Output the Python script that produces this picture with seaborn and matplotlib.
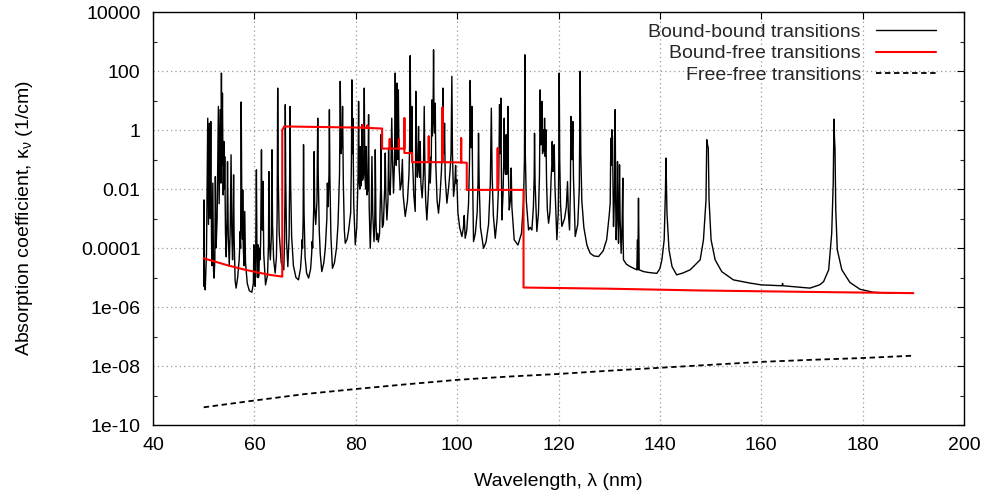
import numpy as np
import pandas as pd
import matplotlib
matplotlib.use("Agg")
import matplotlib.pyplot as plt
import seaborn as sns
from matplotlib.ticker import FixedLocator, NullFormatter

# ---------------- data ----------------
# Bound-bound transitions: wavelength (nm) and log10 of absorption coefficient (1/cm)
bb_wavelength_nm = [
    50.00, 50.05, 50.15, 50.30, 50.55, 50.80, 50.95, 51.10, 51.25, 51.40,
    51.55, 51.65, 51.80, 51.95, 52.05, 52.20, 52.30, 52.45, 52.65, 52.90,
    53.05, 53.25, 53.40, 53.50, 53.60, 53.70, 53.85, 54.00, 54.08, 54.15,
    54.30, 54.45, 54.60, 54.70, 54.85, 55.05, 55.25, 55.40, 55.55, 55.70,
    55.80, 55.90, 56.00, 56.20, 56.40, 56.70, 57.00, 57.15, 57.20, 57.28,
    57.40, 57.52, 57.65, 57.70, 57.80, 57.95, 58.10, 58.25, 58.60, 59.00,
    59.50, 59.80, 59.90, 59.97, 60.05, 60.15, 60.25, 60.40, 60.50, 60.60,
    60.70, 60.80, 60.90, 61.00, 61.15, 61.25, 61.40, 61.50, 61.60, 61.70,
    61.85, 62.20, 62.60, 62.78, 62.87, 62.97, 63.15, 63.35, 63.47, 63.58,
    63.80, 64.10, 64.35, 64.50, 64.60, 64.70, 64.90, 65.30, 65.80, 65.95,
    66.05, 66.10, 66.18, 66.35, 66.60, 66.85, 66.95, 67.05, 67.15, 67.35,
    67.70, 68.20, 68.70, 69.10, 69.30, 69.40, 69.50, 69.62, 69.70, 69.80,
    70.00, 70.30, 70.70, 71.10, 71.30, 71.40, 71.50, 71.70, 71.80, 71.90,
    72.10, 72.35, 72.50, 72.60, 72.80, 73.00, 73.30, 73.70, 74.00, 74.30,
    74.40, 74.55, 74.72, 74.80, 74.90, 75.10, 75.40, 75.80, 76.20, 76.50,
    76.80, 76.94, 77.10, 77.30, 77.40, 77.55, 77.75, 77.93, 78.30, 78.60,
    79.00, 79.15, 79.24, 79.34, 79.44, 79.60, 79.90, 80.20, 80.45, 80.56,
    80.70, 80.80, 80.89, 81.00, 81.12, 81.22, 81.35, 81.55, 81.68, 81.80,
    81.95, 82.07, 82.20, 82.40, 82.53, 82.65, 82.86, 83.05, 83.19, 83.35,
    83.60, 83.75, 83.85, 83.98, 84.10, 84.31, 84.45, 84.70, 84.90, 84.96,
    85.05, 85.25, 85.45, 85.70, 85.82, 85.95, 86.15, 86.35, 86.48, 86.60,
    86.80, 86.95, 87.10, 87.25, 87.45, 87.65, 87.79, 87.92, 88.00, 88.12,
    88.22, 88.30, 88.40, 88.55, 88.77, 89.00, 89.20, 89.35, 89.76, 90.20,
    90.50, 90.62, 90.74, 90.85, 90.95, 91.07, 91.20, 91.45, 91.73, 91.80,
    91.86, 92.00, 92.15, 92.25, 92.39, 92.50, 92.60, 92.72, 92.85, 93.10,
    93.35, 93.51, 93.65, 93.80, 94.03, 94.30, 94.45, 94.56, 94.70, 94.90,
    95.02, 95.12, 95.25, 95.35, 95.45, 95.55, 95.68, 95.80, 96.05, 96.33,
    96.60, 96.90, 97.05, 97.19, 97.30, 97.40, 97.52, 97.65, 97.98, 98.30,
    98.60, 98.80, 98.96, 99.08, 99.29, 99.55, 99.70, 99.80, 99.95, 100.15,
    100.50, 100.94, 101.25, 101.40, 101.59, 101.90, 102.25, 102.45, 102.58, 102.70,
    102.80, 102.91, 103.05, 103.24, 103.60, 103.95, 104.12, 104.22, 104.35, 104.60,
    105.21, 105.70, 106.20, 106.55, 106.75, 106.90, 107.15, 107.52, 107.90, 108.20,
    108.37, 108.50, 108.63, 108.72, 108.83, 109.05, 109.18, 109.29, 109.40, 109.55,
    109.69, 109.80, 109.90, 110.01, 110.12, 110.28, 110.50, 110.60, 110.67, 110.80,
    111.26, 112.00, 112.70, 113.10, 113.28, 113.37, 113.45, 113.65, 114.09, 114.40,
    114.75, 115.05, 115.20, 115.27, 115.38, 115.73, 116.05, 116.25, 116.39, 116.50,
    116.62, 116.72, 116.85, 116.95, 117.05, 117.15, 117.25, 117.38, 117.51, 117.65,
    117.80, 118.04, 118.30, 118.40, 118.55, 118.68, 118.76, 118.88, 119.00, 119.15,
    119.30, 119.68, 119.95, 120.06, 120.14, 120.24, 120.40, 120.66, 121.20, 121.55,
    121.78, 121.95, 122.18, 122.35, 122.44, 122.55, 122.70, 122.83, 122.95, 123.30,
    123.80, 124.10, 124.28, 124.40, 124.60, 125.00, 125.60, 126.25, 127.00, 127.90,
    128.80, 129.50, 130.00, 130.20, 130.33, 130.40, 130.52, 130.65, 130.85, 131.05,
    131.18, 131.28, 131.38, 131.55, 131.64, 131.74, 131.84, 131.95, 132.04, 132.15,
    132.36, 132.55, 132.69, 132.75, 132.82, 133.40, 134.14, 135.00, 135.45, 135.59,
    135.65, 135.78, 135.92, 136.80, 137.76, 139.40, 140.00, 140.40, 140.85, 141.10,
    141.20, 141.40, 141.80, 142.40, 143.30, 144.50, 145.97, 146.80, 147.95, 148.60,
    149.10, 149.25, 149.40, 149.55, 149.70, 150.10, 150.90, 152.20, 154.50, 157.80,
    160.00, 164.10, 164.20, 164.30, 169.60, 171.50, 172.30, 173.30, 173.90, 174.20,
    174.35, 174.45, 174.55, 174.70, 175.00, 175.90, 177.50, 179.50, 182.10, 185.40,
    190.00,
]
bb_log10_kappa = [
    -5.30, -2.37, -5.00, -5.42, -4.20, 0.40, -3.20, 0.23, -3.00, 0.29,
    -3.80, -4.60, -1.80, -4.80, -5.02, -4.40, -1.58, -4.00, -3.00, 0.80,
    -2.50, 0.69, -1.80, 1.93, -1.20, 1.25, -2.20, -0.39, -2.00, -0.90,
    -3.50, -4.30, -3.00, -1.07, -3.60, -4.60, -3.20, -0.84, -3.50, -4.40,
    -3.40, -1.52, -3.60, -5.10, -5.36, -5.00, -4.40, -3.80, -3.44, -4.00,
    0.95, -2.60, -3.70, -2.03, -3.90, -4.60, -2.76, -4.50, -5.20, -5.45,
    -5.50, -5.20, -3.89, -5.20, -4.12, -5.30, -4.40, -1.35, -4.00, -5.00,
    -3.89, -5.00, -4.90, -4.01, -4.40, -3.60, -0.67, -3.20, -3.40, -1.74,
    -4.20, -5.25, -4.90, -3.90, -1.41, -3.80, -4.40, -3.60, -0.67, -3.20,
    -4.40, -4.85, -4.30, -2.80, 1.42, -1.50, -3.50, -4.50, -4.74, -3.80,
    -2.00, 0.86, -1.60, -3.80, -4.63, -3.60, -1.80, 0.80, -1.80, -3.60,
    -4.60, -5.00, -5.08, -4.70, -4.20, -3.72, -4.00, -3.00, -0.50, -2.80,
    -4.30, -4.85, -5.02, -4.70, -4.20, -3.78, -4.00, -2.70, -0.73, -2.60,
    -3.20, -2.40, 0.40, -1.50, -3.40, -4.20, -4.80, -4.50, -4.00, -3.00,
    -1.80, -2.60, -1.50, 0.69, -1.60, -3.60, -4.69, -4.50, -4.00, -3.20,
    -1.50, 1.65, -0.80, -0.40, 0.80, -1.80, -3.40, -3.84, -3.70, -3.40,
    -2.80, -1.00, 1.70, -0.80, 0.40, -2.50, -3.89, -3.30, -1.60, 0.97,
    -1.80, -2.00, -0.56, -1.90, -1.70, 0.18, -1.70, -1.50, 1.42, -1.50,
    -2.00, -0.56, -2.20, -2.00, 0.52, -2.60, -4.01, -3.00, -0.90, -2.80,
    -3.78, -3.20, -0.67, -3.00, -3.72, -3.50, -3.80, -3.50, -2.00, -0.16,
    -2.00, -3.30, -3.20, -2.00, -0.78, -2.30, -3.05, -2.40, -0.67, -2.00,
    -2.20, -1.20, 0.40, -1.00, -2.14, -1.00, 1.93, -0.50, -1.20, 1.59,
    -0.50, -1.00, 1.36, -1.20, -2.03, -1.80, -1.00, -2.20, -2.93, -2.40,
    -1.50, -0.60, 2.52, 0.00, -0.80, 0.80, -1.00, -2.20, -2.76, -1.00,
    1.31, -0.80, -1.60, -1.20, 0.12, -1.40, -1.60, -0.39, -1.80, -2.30,
    -1.50, 0.80, -1.40, -2.40, -3.05, -2.20, -1.60, -0.90, -1.80, -0.90,
    1.02, -0.20, 0.40, 2.72, 0.40, -0.10, 0.91, -1.20, -2.40, -2.82,
    -2.30, -1.40, -0.60, 1.42, -0.50, -0.80, 0.23, -1.60, -2.48, -2.00,
    -1.40, -0.80, 1.82, -0.80, -2.25, -1.80, -1.20, -1.80, -1.69, -2.80,
    -3.30, -3.61, -3.30, -2.90, -3.67, -3.40, -2.50, -1.00, 1.68, -0.40,
    -0.60, 0.80, -1.60, -3.78, -3.50, -2.80, -1.80, -0.11, -1.80, -3.30,
    -4.01, -3.80, -3.20, -1.80, 0.74, -1.50, -2.90, -3.67, -3.00, -1.80,
    0.86, -0.80, 1.08, -1.20, -3.05, -2.20, -1.20, 0.40, -1.20, -1.50,
    -0.16, -1.50, -1.20, 0.80, -1.50, -2.71, -2.40, -1.90, -1.29, -2.60,
    -3.72, -3.90, -3.50, -2.40, -1.00, 2.55, -0.80, -2.40, -3.39, -3.30,
    -3.39, -2.60, -1.60, -0.11, -1.80, -3.44, -2.80, -1.50, 1.36, -0.50,
    -0.40, 0.97, -0.80, -0.70, 0.01, -0.70, 0.40, -0.90, 0.01, -1.80,
    -2.70, -3.16, -2.80, -2.40, -1.60, -1.20, -0.39, -1.40, -1.40, -0.50,
    -1.90, -3.72, -2.80, -1.00, 1.93, -1.00, -2.50, -3.27, -3.00, -2.60,
    -1.75, -2.80, -3.39, -2.00, 0.46, -1.00, -1.00, 0.29, -1.60, -3.61,
    -3.20, -2.00, 1.99, -0.80, -2.40, -3.30, -3.90, -4.18, -4.27, -4.29,
    -4.10, -3.72, -2.90, -2.48, -0.28, -1.20, 0.01, -0.22, -3.27, -2.20,
    0.69, -2.40, -3.72, -2.60, -1.07, -2.80, -3.84, -2.80, -1.18, -3.00,
    -4.18, -3.20, -1.63, -3.60, -4.40, -4.55, -4.63, -4.70, -4.74, -3.72,
    -4.74, -2.31, -4.74, -4.80, -4.83, -4.86, -4.70, -4.40, -3.72, -2.03,
    -0.95, -2.82, -4.06, -4.63, -4.91, -4.85, -4.74, -4.60, -4.40, -3.72,
    -2.37, -0.33, -0.50, -0.61, -2.37, -3.72, -4.40, -4.80, -5.08, -5.19,
    -5.25, -5.28, -5.20, -5.28, -5.36, -5.25, -5.14, -4.74, -3.50, -1.80,
    0.37, -0.30, -0.61, -2.71, -4.06, -4.74, -5.17, -5.40, -5.50, -5.53,
    -5.53,
]

# Bound-free transitions (step edges drawn as repeated wavelengths)
bf_wavelength_nm = [
    50.0, 52.0, 55.0, 58.0, 61.0, 63.0, 65.5, 65.5, 65.9, 81.4,
    81.4, 81.4, 82.3, 82.3, 82.3, 85.2, 85.2, 86.7, 86.7, 86.7,
    88.5, 88.5, 88.5, 89.6, 89.6, 89.6, 91.1, 91.1, 94.4, 94.4,
    94.4, 97.1, 97.1, 97.1, 100.8, 100.8, 100.8, 101.9, 101.9, 108.0,
    108.0, 108.0, 113.1, 113.1, 130.0, 148.0, 170.0, 190.0,
]
bf_log10_kappa = [
    -4.35, -4.45, -4.60, -4.73, -4.84, -4.91, -4.97, 0.00, 0.12, 0.08,
    0.17, 0.08, 0.07, 0.15, 0.07, 0.05, -0.63, -0.63, -0.31, -0.63,
    -0.63, -0.31, -0.63, -0.63, 0.40, -0.78, -0.78, -1.09, -1.09, -0.22,
    -1.09, -1.09, 0.76, -1.09, -1.10, -0.28, -1.10, -1.11, -2.03, -2.03,
    -0.62, -2.03, -2.03, -5.34, -5.38, -5.44, -5.49, -5.53,
]

# Free-free transitions
ff_wavelength_nm = [50, 60, 70, 80, 90, 100, 110, 120, 130, 140, 150, 160, 170, 180, 190]
ff_log10_kappa = [-9.40, -9.17, -8.95, -8.78, -8.62, -8.47, -8.36, -8.27,
                  -8.16, -8.06, -7.96, -7.86, -7.79, -7.73, -7.65]

x_ticks = [40, 60, 80, 100, 120, 140, 160, 180, 200]
y_major_ticks = [1e4, 1e2, 1e0, 1e-2, 1e-4, 1e-6, 1e-8, 1e-10]
y_major_labels = ["10000", "100", "1", "0.01", "0.0001", "1e-06", "1e-08", "1e-10"]
y_minor_ticks = [1e3, 1e1, 1e-1, 1e-3, 1e-5, 1e-7, 1e-9]

series_labels = ["Bound-bound transitions", "Bound-free transitions", "Free-free transitions"]

# ---------------- frames ----------------
bb = pd.DataFrame({"wl": bb_wavelength_nm, "k": 10.0 ** np.array(bb_log10_kappa)})
bf = pd.DataFrame({"wl": bf_wavelength_nm, "k": 10.0 ** np.array(bf_log10_kappa)})
ff = pd.DataFrame({"wl": ff_wavelength_nm, "k": 10.0 ** np.array(ff_log10_kappa)})

# ---------------- style ----------------
sns.set_theme(style="white")
plt.rcParams["font.family"] = ["Liberation Sans", "DejaVu Sans"]
plt.rcParams["mathtext.default"] = "regular"

fig = plt.figure(figsize=(9.88, 5.0), dpi=100)
ax = fig.add_axes([153 / 988, 75 / 500, (964 - 153) / 988, (425 - 12) / 500])

sns.lineplot(data=bb, x="wl", y="k", ax=ax, color="black", lw=1.0,
             estimator=None, sort=False, label=series_labels[0])
sns.lineplot(data=bf, x="wl", y="k", ax=ax, color="#ff0000", lw=1.5,
             estimator=None, sort=False, label=series_labels[1])
sns.lineplot(data=ff, x="wl", y="k", ax=ax, color="black", lw=1.3,
             estimator=None, sort=False, linestyle=(0, (3, 2)),
             label=series_labels[2])

ax.set_yscale("log")
ax.set_xlim(40, 200)
ax.set_ylim(1e-10, 1e4)
ax.xaxis.set_major_locator(FixedLocator(x_ticks))
ax.set_xticklabels([str(t) for t in x_ticks])
ax.yaxis.set_major_locator(FixedLocator(y_major_ticks))
ax.set_yticklabels(y_major_labels)
ax.yaxis.set_minor_locator(FixedLocator(y_minor_ticks))
ax.yaxis.set_minor_formatter(NullFormatter())
ax.xaxis.set_minor_locator(FixedLocator([]))

ax.grid(True, which="major", color="#999999", linestyle=(0, (1, 2.5)), lw=0.9)
ax.set_axisbelow(True)
ax.tick_params(which="major", direction="in", length=5, width=0.8,
               top=True, right=True, labelsize=14, pad=9, colors="black")
ax.tick_params(which="minor", direction="in", length=3, width=0.8,
               top=False, right=True, left=True)
for s in ax.spines.values():
    s.set_color("black")
    s.set_linewidth(1.0)

ax.set_xlabel("Wavelength, λ (nm)", fontsize=14, labelpad=13, color="black")
ax.set_ylabel("Absorption coefficient, κ$_\\mathregular{ν}$ (1/cm)", fontsize=14,
              labelpad=33, color="black")

ax.legend(loc="upper right", bbox_to_anchor=(0.970, 0.983), frameon=False,
          markerfirst=False, fontsize=14, handlelength=3.1, handletextpad=0.75,
          labelspacing=0.22, borderaxespad=0.0, borderpad=0.2)

fig.savefig("out.png", dpi=100)
